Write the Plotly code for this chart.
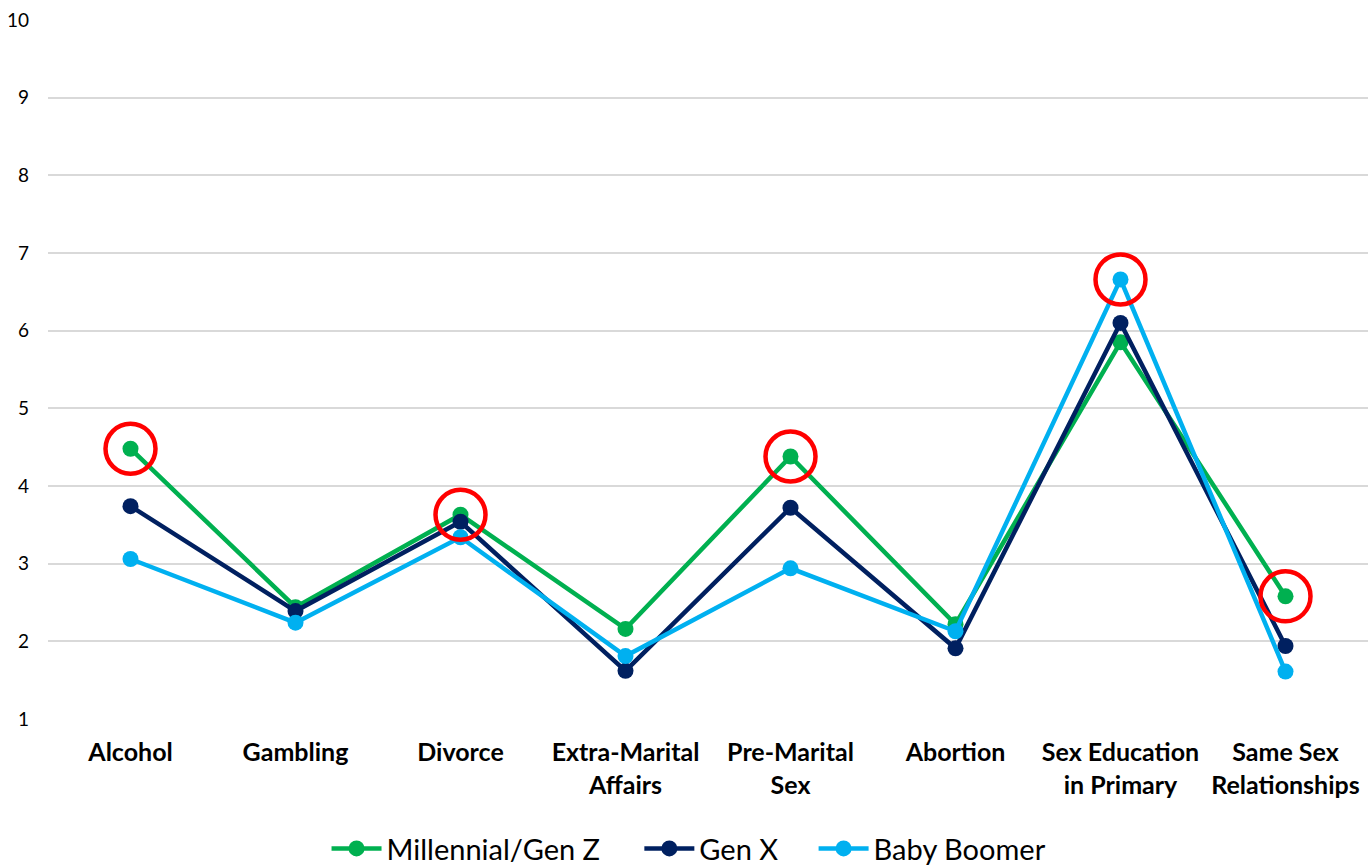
import plotly.graph_objects as go

categories = ["Alcohol", "Gambling", "Divorce", "Extra-Marital<br>Affairs", "Pre-Marital<br>Sex",
              "Abortion", "Sex Education<br>in Primary", "Same Sex<br>Relationships"]
millennial = [4.48, 2.44, 3.63, 2.16, 4.38, 2.22, 5.85, 2.58]
gen_x = [3.74, 2.39, 3.54, 1.62, 3.72, 1.91, 6.10, 1.94]
boomer = [3.06, 2.24, 3.34, 1.81, 2.94, 2.13, 6.66, 1.61]
y_ticks = [1, 2, 3, 4, 5, 6, 7, 8, 9, 10]

series = [
    ("Millennial/Gen Z", millennial, "#00B050"),
    ("Gen X", gen_x, "#002060"),
    ("Baby Boomer", boomer, "#00B0F0"),
]

# points singled out with a red ring: (series name, category index)
highlights = [("Millennial/Gen Z", 0), ("Millennial/Gen Z", 2), ("Millennial/Gen Z", 4),
              ("Baby Boomer", 6), ("Millennial/Gen Z", 7)]

font_family = "Lato, 'Open Sans', sans-serif"
legend_ids = ["legend", "legend2", "legend3"]
legend_x = [0.238, 0.466, 0.593]

fig = go.Figure()
for (name, vals, color), lid in zip(series, legend_ids):
    fig.add_trace(go.Scatter(
        x=categories, y=vals, name=name, mode="lines+markers", legend=lid,
        line=dict(color=color, width=4.5),
        marker=dict(color=color, size=16),
    ))

lookup = {name: vals for name, vals, _ in series}
fig.add_trace(go.Scatter(
    x=[categories[i] for _, i in highlights],
    y=[lookup[n][i] for n, i in highlights],
    mode="markers", showlegend=False, hoverinfo="skip",
    marker=dict(symbol="circle-open", size=50, color="#FF0000", line=dict(width=4.5, color="#FF0000")),
))

legend_style = dict(orientation="h", xanchor="left", xref="container",
                    y=0.019, yanchor="middle", yref="container",
                    font=dict(size=29, family=font_family), itemwidth=50)

fig.update_layout(
    width=1372, height=865,
    margin=dict(l=48, r=4, t=20, b=146, autoexpand=False),
    plot_bgcolor="white", paper_bgcolor="white",
    font=dict(family=font_family, color="#000000"),
    showlegend=True,
    legend=dict(x=legend_x[0], **legend_style),
    legend2=dict(x=legend_x[1], **legend_style),
    legend3=dict(x=legend_x[2], **legend_style),
)
fig.update_xaxes(
    type="category", range=[-0.5, 7.5], showgrid=False, zeroline=False, showline=False,
    tickfont=dict(size=25, family=font_family, color="#000000", weight="bold"),
    ticklabelstandoff=16, automargin=False,
)
fig.update_yaxes(
    range=[1, 10], tickvals=y_ticks, showgrid=True, gridcolor="#D9D9D9", gridwidth=2,
    zeroline=False, showline=False, tickfont=dict(size=19, family=font_family, color="#000000"),
    ticklabelstandoff=18, automargin=False,
)

fig.write_html("out.html")
